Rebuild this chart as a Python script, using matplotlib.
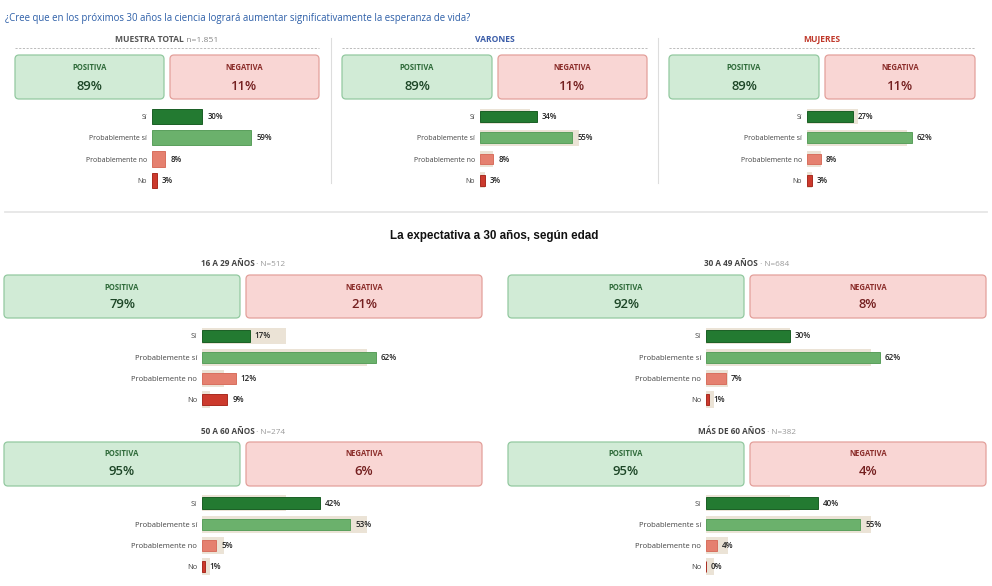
import matplotlib
matplotlib.use("Agg")
import matplotlib.pyplot as plt
from matplotlib.patches import FancyBboxPatch
from matplotlib.offsetbox import TextArea, HPacker, AnnotationBbox

# ---------------- data ----------------
categories = ["Sí", "Probablemente sí", "Probablemente no", "No"]

summary_names = ["MUESTRA TOTAL", "VARONES", "MUJERES"]
summary_n = ["n=1.851", "", ""]
summary_pos = [89, 89, 89]
summary_neg = [11, 11, 11]
total_vals = [30, 59, 8, 3]
varones_vals = [34, 55, 8, 3]
mujeres_vals = [27, 62, 8, 3]

age_names = ["16 A 29 AÑOS", "30 A 49 AÑOS", "50 A 60 AÑOS", "MÁS DE 60 AÑOS"]
age_n = [512, 684, 274, 382]
age_pos = [79, 92, 95, 95]
age_neg = [21, 8, 6, 4]
age_16_29 = [17, 62, 12, 9]
age_30_49 = [30, 62, 7, 1]
age_50_60 = [42, 53, 5, 1]
age_60_plus = [40, 55, 4, 0]

question = "¿Cree que en los próximos 30 años la ciencia logrará aumentar significativamente la esperanza de vida?"
age_title = "La expectativa a 30 años, según edad"

# ---------------- style ----------------
FONT = ["Open Sans", "DejaVu Sans"]
plt.rcParams["font.family"] = FONT
W_PX, H_PX = 992, 586
bar_colors = ["#237a31", "#6bb16c", "#e5806f", "#cc3a2d"]
bar_edges = ["#1a5f25", "#5a9f5c", "#d86f5e", "#a92b20"]
beige = "#ebe3d6"
pos_fill, pos_edge, pos_txt, pos_val = "#d1ebd6", "#93c9a0", "#2f6b3a", "#1c4526"
neg_fill, neg_edge, neg_txt, neg_val = "#f9d6d4", "#e3a09b", "#8b2d2a", "#741f1f"
header_colors = ["#555555", "#3a5ca8", "#c0392b"]

fig = plt.figure(figsize=(W_PX / 100, H_PX / 100), dpi=100)
fig.patch.set_facecolor("white")

ov = fig.add_axes([0, 0, 1, 1], zorder=0)
ov.set_xlim(0, W_PX)
ov.set_ylim(H_PX, 0)
ov.axis("off")


def header(x, y, parts):
    areas = [TextArea(t, textprops=dict(fontsize=fs, color=c, fontweight=w, family=FONT))
             for t, fs, c, w in parts]
    hp = HPacker(children=areas, pad=0, sep=0, align="baseline")
    ab = AnnotationBbox(hp, (x, y), xycoords="data", frameon=False,
                        box_alignment=(0.5, 0.5), pad=0)
    ov.add_artist(ab)


def boxes(xp0, xp1, xn0, xn1, y0, y1, pos, neg, lab_dy, val_dy):
    for (a, b, fill, edge, lab, lc, val, vc) in [
        (xp0, xp1, pos_fill, pos_edge, "POSITIVA", pos_txt, pos, pos_val),
        (xn0, xn1, neg_fill, neg_edge, "NEGATIVA", neg_txt, neg, neg_val),
    ]:
        p = FancyBboxPatch((a, y0), b - a, y1 - y0,
                           boxstyle="round,pad=0,rounding_size=4",
                           facecolor=fill, edgecolor=edge, linewidth=0.9)
        ov.add_patch(p)
        cx = (a + b) / 2
        ov.text(cx, y0 + lab_dy, lab, ha="center", va="center", fontsize=5.5,
                fontweight="bold", color=lc)
        ov.text(cx, y0 + val_dy, f"{val}%", ha="center", va="center", fontsize=9.4,
                fontweight="semibold", color=vc)


def bars(x0, width, y_first, step, vals, ref, bar_h, ref_h, fs, vfs):
    top = y_first - 0.5 * step
    bot = y_first + 3.5 * step
    ax = fig.add_axes([x0 / W_PX, 1 - bot / H_PX, width / W_PX, (bot - top) / H_PX], zorder=2)
    ax.patch.set_alpha(0)
    y = list(range(len(categories)))
    if ref is not None:
        ax.barh(y, ref, height=ref_h, color=beige, zorder=1)
    ax.barh(y, vals, height=bar_h, color=bar_colors, edgecolor=bar_edges,
            linewidth=0.7, zorder=2)
    for i, v in enumerate(vals):
        ax.annotate(f"{v}%", (v, i), xytext=(3.6, 0), textcoords="offset points",
                    ha="left", va="center", fontsize=vfs, fontweight="semibold",
                    color="#222222", annotation_clip=False, zorder=3)
    ax.set_xlim(0, 100)
    ax.set_ylim(3.5, -0.5)
    ax.set_yticks(y, categories)
    ax.set_xticks([])
    ax.tick_params(axis="y", length=0, pad=3.6, labelsize=fs, labelcolor="#444444")
    for s in ax.spines.values():
        s.set_visible(False)
    return ax


# ---------------- title ----------------
ov.text(5, 18, question, ha="left", va="center", fontsize=6.9, color="#2d5fa8")

# ---------------- top summary panels ----------------
top_cols = [
    dict(pos=(15, 164), neg=(170, 319), bar_x=152, label=147),
    dict(pos=(342, 492), neg=(498, 647), bar_x=480, label=474),
    dict(pos=(669, 819), neg=(825, 975), bar_x=807, label=801),
]
top_vals = [total_vals, varones_vals, mujeres_vals]
for k, col in enumerate(top_cols):
    cx = (col["pos"][0] + col["neg"][1]) / 2
    parts = [(summary_names[k], 6.1, header_colors[k], "bold")]
    if summary_n[k]:
        parts.append((" " + summary_n[k], 6.1, "#888888", "normal"))
    header(cx, 39, parts)
    ov.plot([col["pos"][0], col["neg"][1]], [48, 48], ls=(0, (2.2, 1.6)),
            color="#bbbbbb", lw=0.7)
    boxes(col["pos"][0], col["pos"][1], col["neg"][0], col["neg"][1], 55, 99,
          summary_pos[k], summary_neg[k], 13, 31)
    ref = None if k == 0 else total_vals
    bh = 0.72 if k == 0 else 0.5
    bars(col["bar_x"], col["neg"][1] - col["bar_x"] + 1, 116.5, 21.3, top_vals[k],
         ref, bh, 0.75, 5.0, 5.6)

for xv in (331, 658):
    ov.plot([xv, xv], [38, 183], color="#dddddd", lw=0.8)

ov.plot([5, 987], [212, 212], color="#e6e6e6", lw=1.3)
ov.text(494, 236, age_title, ha="center", va="center", fontsize=8.4,
        fontweight="bold", color="#111111", family=["Liberation Sans", "DejaVu Sans"])

# ---------------- age panels ----------------
age_vals = [age_16_29, age_30_49, age_50_60, age_60_plus]
age_layout = [
    dict(pos=(4, 240), neg=(246, 482), bar_x=202, hy=263, by=(275, 318), ry=336),
    dict(pos=(508, 744), neg=(750, 986), bar_x=706, hy=263, by=(275, 318), ry=336),
    dict(pos=(4, 240), neg=(246, 482), bar_x=202, hy=431, by=(442, 486), ry=503),
    dict(pos=(508, 744), neg=(750, 986), bar_x=706, hy=431, by=(442, 486), ry=503),
]
for k, L in enumerate(age_layout):
    cx = (L["pos"][0] + L["neg"][1]) / 2
    header(cx, L["hy"], [(age_names[k], 5.9, "#444444", "bold"),
                         (f" · N={age_n[k]}", 5.9, "#9a9a9a", "normal")])
    boxes(L["pos"][0], L["pos"][1], L["neg"][0], L["neg"][1], L["by"][0], L["by"][1],
          age_pos[k], age_neg[k], 12, 29.5)
    bars(L["bar_x"], L["neg"][1] - L["bar_x"], L["ry"], 21.2, age_vals[k],
         total_vals, 0.52, 0.8, 5.5, 5.8)

fig.savefig("out.png", dpi=100, facecolor="white")
